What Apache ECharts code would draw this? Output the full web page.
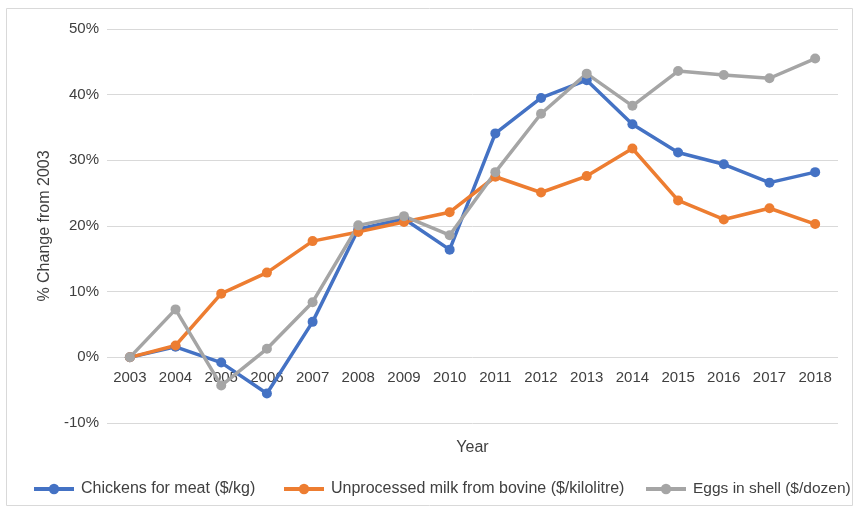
<!DOCTYPE html>
<html>
<head>
<meta charset="utf-8">
<script src="https://cdn.jsdelivr.net/npm/echarts@6/dist/echarts.min.js"></script>
<style>
  html, body { margin: 0; padding: 0; background: #fff; }
  #main { width: 856px; height: 511px; }
</style>
</head>
<body>
<div id="main"></div>
<script>
// years on the x axis
var years = ['2003','2004','2005','2006','2007','2008','2009','2010',
             '2011','2012','2013','2014','2015','2016','2017','2018'];
// % change from 2003
var chickens = [0, 1.6, -0.8, -5.5, 5.4, 19.5, 21.1, 16.4, 34.1, 39.5, 42.2, 35.5, 31.2, 29.4, 26.6, 28.2];
var milk     = [0, 1.8, 9.7, 12.9, 17.7, 19.1, 20.6, 22.1, 27.5, 25.1, 27.6, 31.8, 23.9, 21.0, 22.7, 20.3];
var eggs     = [0, 7.3, -4.3, 1.3, 8.4, 20.1, 21.5, 18.6, 28.2, 37.1, 43.2, 38.3, 43.6, 43.0, 42.5, 45.5];
var seriesNames = ['Chickens for meat ($/kg)', 'Unprocessed milk from bovine ($/kilolitre)', 'Eggs in shell ($/dozen)'];
var colors = ['#4472C4', '#ED7D31', '#A5A5A5'];

var yMin = -10, yMax = 50;
var font = 'Liberation Sans';
var textColor = '#404040';

var W = 856, H = 511;
var grid = { left: 107, right: 18, top: 29, bottom: 88 };
var plotH = H - grid.top - grid.bottom;
// x axis sits on the 0% line
var zeroOffset = -plotH * (0 - yMin) / (yMax - yMin);

function mkSeries(name, data, color) {
    return {
        name: name,
        type: 'line',
        data: data,
        symbol: 'circle',
        symbolSize: 10,
        lineStyle: { width: 3.5, color: color },
        itemStyle: { color: color },
        emphasis: { disabled: true }
    };
}

// one legend per entry, spaced like the original
var legendLefts = [32, 282, 644];
var legendSizes = [16, 16, 15.5];
var legends = seriesNames.map(function (n, i) {
    return {
        data: [n],
        left: legendLefts[i],
        bottom: 14,
        padding: 0,
        itemWidth: 40,
        itemHeight: 13,
        itemGap: 0,
        lineStyle: { width: 4 },
        textStyle: { color: textColor, fontSize: legendSizes[i], fontFamily: font, padding: [0, 0, 0, 2] }
    };
});

var chart = echarts.init(document.getElementById('main'));
chart.setOption({
    animation: false,
    textStyle: { fontFamily: font },
    graphic: [{
        type: 'rect',
        shape: { x: 6.5, y: 8.5, width: 846, height: 497 },
        style: { fill: 'none', stroke: '#D9D9D9', lineWidth: 1 },
        silent: true
    }],
    grid: { left: grid.left, right: grid.right, top: grid.top, bottom: grid.bottom, outerBoundsMode: 'none', containLabel: false },
    legend: legends,
    xAxis: {
        type: 'category',
        data: years,
        position: 'bottom',
        offset: zeroOffset,
        name: 'Year',
        nameLocation: 'middle',
        nameGap: 82,
        nameTextStyle: { color: textColor, fontSize: 16 },
        axisLine: { show: false, onZero: false },
        axisTick: { show: false },
        axisLabel: { color: textColor, fontSize: 15, margin: 13 }
    },
    yAxis: {
        type: 'value',
        min: yMin,
        max: yMax,
        interval: 10,
        name: '% Change from 2003',
        nameLocation: 'middle',
        nameGap: 53,
        nameTextStyle: { color: textColor, fontSize: 16 },
        axisLabel: { color: textColor, fontSize: 15, margin: 8, formatter: '{value}%' },
        splitLine: { lineStyle: { color: '#D9D9D9', width: 1 } }
    },
    series: [
        mkSeries(seriesNames[0], chickens, colors[0]),
        mkSeries(seriesNames[1], milk, colors[1]),
        mkSeries(seriesNames[2], eggs, colors[2])
    ]
});
</script>
</body>
</html>
